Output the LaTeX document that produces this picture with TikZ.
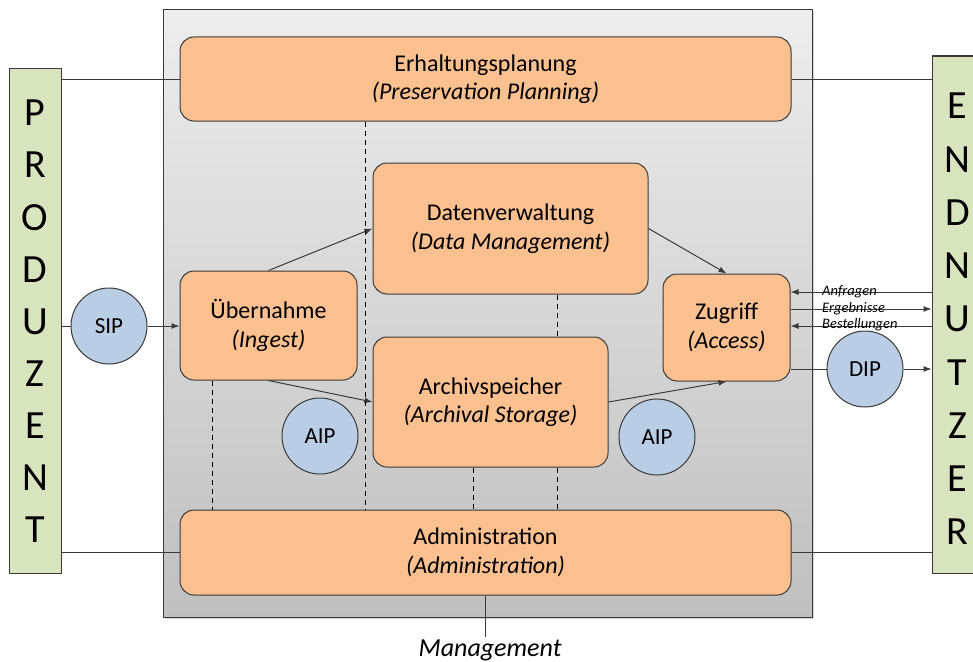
\documentclass[tikz,border=0pt]{standalone}
\usepackage{fontspec}
\setmainfont{Carlito}
\usetikzlibrary{arrows.meta, positioning, calc, shadows}
\definecolor{BoxOrange}{HTML}{FAC090}
\definecolor{PkgBlue}{HTML}{B9CDE5}
\definecolor{ActorGreen}{HTML}{D7E4BD}
\definecolor{LineGrey}{HTML}{3A3A3A}

\begin{document}
\begin{tikzpicture}[x=1pt, y=-1pt, >={Latex[length=8pt,width=6pt]},
  func/.style={draw=LineGrey, line width=1pt, fill=BoxOrange,
    rounded corners=14pt, align=center, inner sep=0pt,
    font=\fontsize{24}{28.5}\selectfont},
  pkg/.style={circle, draw=LineGrey, line width=1pt, fill=PkgBlue,
    minimum size=76pt, inner sep=0pt, font=\fontsize{23}{26}\selectfont},
  actor/.style={draw=LineGrey, line width=1pt, fill=ActorGreen, inner sep=0pt},
  letter/.style={font=\fontsize{40}{44}\selectfont, inner sep=0pt},
  flow/.style={draw=LineGrey, line width=1pt},
  dep/.style={draw=black, line width=1pt, dash pattern=on 5pt off 4pt},
  msg/.style={font=\fontsize{14.5}{16}\selectfont\itshape, inner sep=0pt, anchor=west}]

  \useasboundingbox (0,0) rectangle (973,661);
  \clip (0,0) rectangle (973,661);

  % OAIS frame
  \draw[draw=LineGrey, line width=1pt, top color=black!7, bottom color=black!25,
    drop shadow={shadow xshift=2pt, shadow yshift=-2pt, opacity=0.35}]
    (163,10) rectangle (812,617);

  % Actors
  \node[actor, minimum width=52pt, minimum height=505pt] (producer) at (35,320.5) {};
  \node[actor, minimum width=60pt, minimum height=517pt] (consumer) at (962,314.5) {};
  \foreach \l [count=\i from 0] in {P,R,O,D,U,Z,E,N,T}
    \node[letter] (prodl\i) at (35,{113+52.1*\i}) {\l};
  \foreach \l [count=\i from 0] in {E,N,D,N,U,T,Z,E,R}
    \node[letter] (consl\i) at (957.5,{106+53.25*\i}) {\l};

  % Functional entities
  \node[func, minimum width=611pt, minimum height=84pt] (plan) at (485.5,79)
    {Erhaltungsplanung\\\textit{(Preservation Planning)}};
  \node[func, minimum width=275pt, minimum height=131pt] (data) at (510.5,228.5)
    {Datenverwaltung\\\textit{(Data Management)}};
  \node[func, minimum width=177pt, minimum height=109pt] (ingest) at (268.5,325.5)
    {Übernahme\\\textit{(Ingest)}};
  \node[func, minimum width=235pt, minimum height=130pt] (storage) at (490.5,402)
    {Archivspeicher\\\textit{(Archival Storage)}};
  \node[func, minimum width=127pt, minimum height=107pt] (access) at (726.5,327.5)
    {Zugriff\\\textit{(Access)}};
  \node[func, minimum width=611pt, minimum height=85pt] (admin) at (485.5,552.5)
    {Administration\\\textit{(Administration)}};

  % Information packages
  \node[pkg] (sip) at (109,326) {SIP};
  \node[pkg] (aipl) at (320,436) {AIP};
  \node[pkg] (aipr) at (657,437) {AIP};
  \node[pkg] (dip) at (865,369) {DIP};

  % Actor links
  \draw[flow] (producer.east |- plan.west) -- (plan.west);
  \draw[flow] (plan.east) -- (plan.east -| consumer.west);
  \draw[flow] (producer.east |- admin.west) -- (admin.west);
  \draw[flow] (admin.east) -- (admin.east -| consumer.west);

  % Package flow
  \draw[flow] (producer.east |- sip) -- (sip);
  \draw[flow, ->] (sip) -- (ingest.west |- sip);
  \draw[flow, ->] (ingest.north) -- (data.west);
  \draw[flow, ->] (ingest.south) -- (storage.west);
  \draw[flow, ->] (data.east) -- (access.north);
  \draw[flow, ->] (storage.east) -- (access.south);
  \draw[flow] ([yshift=-41.5pt]access.east) -- (dip);
  \draw[flow, ->] (dip) -- (dip -| consumer.west);

  % Requests from the consumer
  \draw[flow, <-] ([yshift=35.5pt]access.east) -- ([yshift=35.5pt]access.east -| consumer.west);
  \draw[flow, ->] ([yshift=18.5pt]access.east) -- ([yshift=18.5pt]access.east -| consumer.west);
  \draw[flow, <-] ([yshift=1.5pt]access.east) -- ([yshift=1.5pt]access.east -| consumer.west);
  \node[msg] (anfr) at (822,292) {Anfragen};
  \node[msg] (erg) at (822,308.5) {Ergebnisse};
  \node[msg] (best) at (822,325) {Bestellungen};

  % Administrative links (dashed)
  \draw[dep] (plan.south -| 365,0) -- (admin.north -| 365,0);
  \draw[dep] (ingest.south -| 212,0) -- (admin.north -| 212,0);
  \draw[dep] (data.south -| 557,0) -- (storage.north -| 557,0);
  \draw[dep] (storage.south -| 557,0) -- (admin.north -| 557,0);
  \draw[dep] (storage.south -| 473,0) -- (admin.north -| 473,0);

  % Management
  \node[font=\fontsize{26}{30}\selectfont\itshape, inner sep=2pt] (mgmt) at (490,650) {Management};
  \draw[flow] (admin.south) -- (admin.south |- mgmt.north);
\end{tikzpicture}
\end{document}
